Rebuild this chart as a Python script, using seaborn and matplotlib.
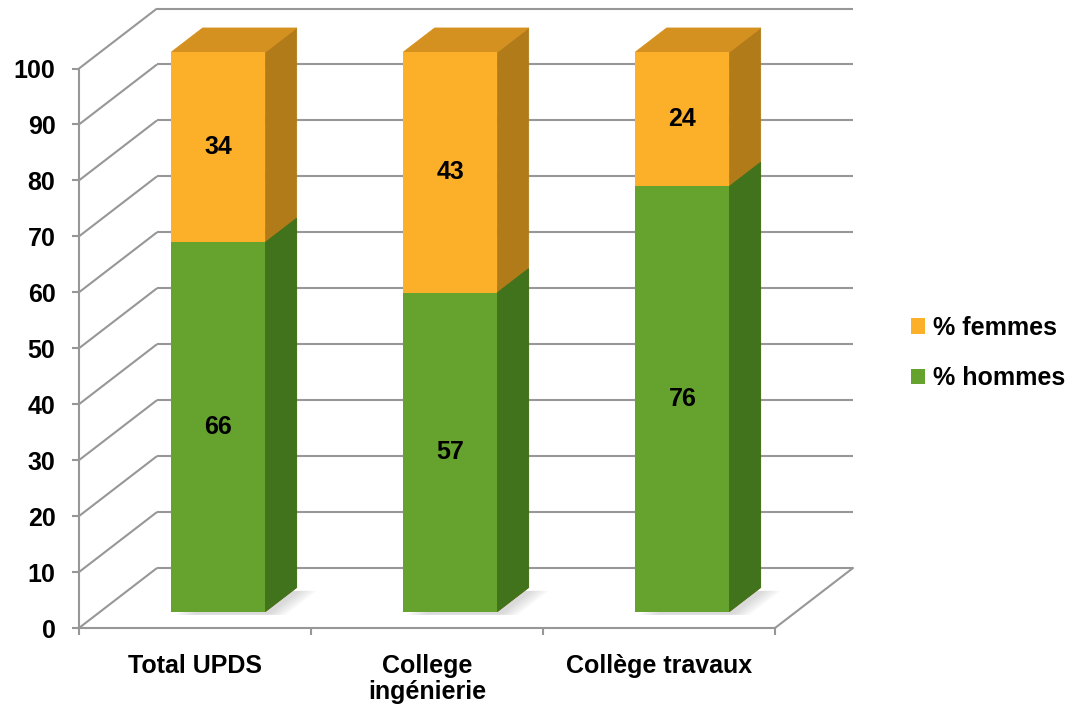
import numpy as np
import pandas as pd
import matplotlib
matplotlib.use("Agg")
import matplotlib.pyplot as plt
import seaborn as sns
from matplotlib.patches import Polygon, Patch

# ---------------- data ----------------
categories = ["Total UPDS", "College\ningénierie", "Collège travaux"]
hommes = [66, 57, 76]
femmes = [34, 43, 24]
series_names = ["% femmes", "% hommes"]
yticks = list(range(0, 101, 10))

# ---------------- style ----------------
sns.set_theme(style="white")
plt.rcParams['font.family'] = ['Liberation Sans', 'DejaVu Sans']
plt.rcParams['font.weight'] = 'bold'
plt.rcParams['text.color'] = 'black'

ORANGE = "#FCB02A"
ORANGE_TOP = "#D4911F"
ORANGE_SIDE = "#B27B1A"
GREEN = "#66A22E"
GREEN_SIDE = "#41721C"
GRID = "#979797"
FS = 18

W, H = 1086, 708
fig = plt.figure(figsize=(W / 100, H / 100), dpi=100)
ax = fig.add_axes([79 / W, 1 - 628 / H, (775 - 79) / W, (628 - 68.5) / H])
ax.set_xlim(-0.5, 2.5)
ax.set_ylim(0, 100)

# depth projection (full depth) in data units
DX = 78 / 232.0
DY = 60 / 5.595
Z0, Z1 = 0.275, 0.675
D = Z1 - Z0
BW = 0.405
XSHIFT = 2 / 232.0

df = pd.DataFrame({
    "cat": categories,
    "hommes": hommes,
    "total": [h + f for h, f in zip(hommes, femmes)],
})

# ---------------- back walls / grid ----------------
for v in yticks:
    ax.plot([-0.5, -0.5 + DX], [v, v + DY], color=GRID, lw=1.5,
            clip_on=False, zorder=1, solid_capstyle="butt")
    ax.plot([-0.5 + DX, 2.5 + DX], [v + DY, v + DY], color=GRID, lw=1.5,
            clip_on=False, zorder=1, solid_capstyle="butt")
ax.plot([2.5, 2.5 + DX], [0, DY], color=GRID, lw=1.5, clip_on=False, zorder=1)

# ---------------- bars (front faces) ----------------
sns.barplot(data=df, x="cat", y="total", color=ORANGE, saturation=1,
            width=BW, errorbar=None, ax=ax, zorder=3, linewidth=0)
n = len(categories)
sns.barplot(data=df, x="cat", y="hommes", color=GREEN, saturation=1,
            width=BW, errorbar=None, ax=ax, zorder=3, linewidth=0)
patches = list(ax.patches)
orange_bars = patches[:n]
green_bars = patches[n:2 * n]

for p in patches:
    p.set_x(p.get_x() + Z0 * DX + XSHIFT)
    p.set_y(p.get_y() + Z0 * DY)

# shadows on floor
for p in orange_bars:
    x0 = p.get_x(); x1 = x0 + p.get_width(); yb = p.get_y()
    for k in range(7):
        off = 0.015 + k * 0.012
        poly = [(x0 + off, yb - 0.6), (x1 + off, yb - 0.6),
                (x1 + off + D * DX, yb + D * DY - 0.6), (x0 + off + D * DX, yb + D * DY - 0.6)]
        ax.add_patch(Polygon(poly, closed=True, facecolor="#808080", alpha=0.045,
                             edgecolor="none", zorder=2, clip_on=False))


def side(p, color):
    x0 = p.get_x(); x1 = x0 + p.get_width()
    y0 = p.get_y(); y1 = y0 + p.get_height()
    poly = [(x1, y0), (x1 + D * DX, y0 + D * DY), (x1 + D * DX, y1 + D * DY), (x1, y1)]
    ax.add_patch(Polygon(poly, closed=True, facecolor=color, edgecolor=color,
                         linewidth=0.6, zorder=2.9, clip_on=False))


def top(p, color):
    x0 = p.get_x(); x1 = x0 + p.get_width()
    y1 = p.get_y() + p.get_height()
    poly = [(x0, y1), (x0 + D * DX, y1 + D * DY), (x1 + D * DX, y1 + D * DY), (x1, y1)]
    ax.add_patch(Polygon(poly, closed=True, facecolor=color, edgecolor=color,
                         linewidth=0.6, zorder=2.9, clip_on=False))


for p in orange_bars:
    p.set_clip_on(False)
    side(p, ORANGE_SIDE)
    top(p, ORANGE_TOP)
for p in green_bars:
    p.set_clip_on(False)
    side(p, GREEN_SIDE)

# value labels
for i, (h, f) in enumerate(zip(hommes, femmes)):
    xc = i + Z0 * DX + XSHIFT
    ax.text(xc, h / 2 + Z0 * DY, f"{h}", ha="center", va="center",
            fontsize=FS, fontweight="bold", color="black", zorder=5)
    ax.text(xc, h + f / 2 + Z0 * DY, f"{f}", ha="center", va="center",
            fontsize=FS, fontweight="bold", color="black", zorder=5)

# ---------------- axes ----------------
for s in ["top", "right"]:
    ax.spines[s].set_visible(False)
for s in ["left", "bottom"]:
    ax.spines[s].set_visible(True)
    ax.spines[s].set_color(GRID)
    ax.spines[s].set_linewidth(1.5)
    ax.spines[s].set_zorder(1)

ax.set_yticks(yticks)
ax.set_yticklabels([str(v) for v in yticks])
ax.set_xticks(range(n))
ax.set_xticklabels(categories)
ax.set_xticks([-0.5, 0.5, 1.5, 2.5], minor=True)
ax.tick_params(axis="y", which="major", left=True, length=5, width=1.5,
               color=GRID, pad=12, labelsize=FS, labelcolor="black")
ax.tick_params(axis="x", which="major", bottom=False, length=0, pad=18.5,
               labelsize=FS, labelcolor="black")
ax.tick_params(axis="x", which="minor", bottom=True, length=5, width=1.5,
               color=GRID)
for lab in ax.get_yticklabels() + ax.get_xticklabels():
    lab.set_fontweight("bold")
for lab in ax.get_xticklabels():
    lab.set_multialignment("center")
    lab.set_linespacing(1.12)
ax.set_xlabel("")
ax.set_ylabel("")
ax.grid(False)

# legend
handles = [Patch(facecolor=ORANGE, edgecolor="none", label=series_names[0]),
           Patch(facecolor=GREEN, edgecolor="none", label=series_names[1])]
fig.legend(handles=handles, loc="center left", bbox_to_anchor=(911 / W, 1 - 353 / H),
           frameon=False, prop={"size": FS, "weight": "bold"}, handlelength=0.57,
           handleheight=0.57, handletextpad=0.3, labelspacing=1.05,
           borderpad=0, borderaxespad=0, labelcolor="black")

fig.savefig("out.png", dpi=100, facecolor="white")
